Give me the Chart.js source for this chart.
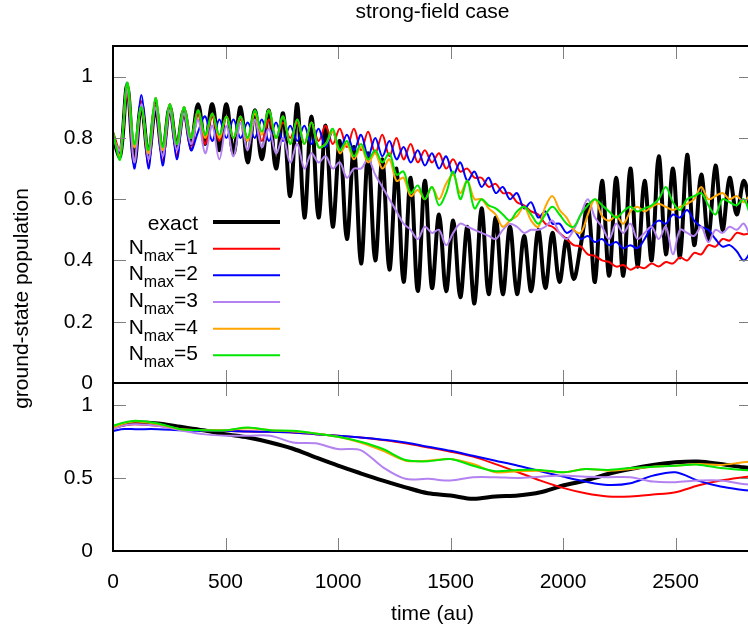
<!DOCTYPE html>
<html>
<head>
<meta charset="utf-8">
<script src="https://cdn.jsdelivr.net/npm/chart.js@4.4.1/dist/chart.umd.min.js"></script>
<style>
  html, body { margin: 0; padding: 0; background: #fff; overflow: hidden; }
  body { width: 748px; height: 632px; }
  #wrap { position: relative; width: 760px; height: 632px; }
</style>
</head>
<body>
<div id="wrap"><canvas id="chart" width="760" height="632"></canvas></div>
<script>
// Données (temps en au)
const timesTop = [
  0, 31.5, 63, 94.5, 126, 157.5, 189, 220.5, 252, 283.5,
  315, 346.5, 378, 409.5, 441, 472.5, 504, 535.5, 567, 598.5,
  630, 661.5, 693, 724.5, 756, 787.5, 819, 850.5, 882, 913.5,
  945, 976.5, 1008, 1039.5, 1071, 1102.5, 1134, 1165.5, 1197, 1228.5,
  1260, 1291.5, 1323, 1354.5, 1386, 1417.5, 1449, 1480.5, 1512, 1543.5,
  1575, 1606.5, 1638, 1669.5, 1701, 1732.5, 1764, 1795.5, 1827, 1858.5,
  1890, 1921.5, 1953, 1984.5, 2016, 2047.5, 2079, 2110.5, 2142, 2173.5,
  2205, 2236.5, 2268, 2299.5, 2331, 2362.5, 2394, 2425.5, 2457, 2488.5,
  2520, 2551.5, 2583, 2614.5, 2646, 2677.5, 2709, 2740.5, 2772, 2803.5,
  2835
];

const exactTop = [
  0.80, 0.74, 0.97, 0.72, 0.91, 0.74, 0.90, 0.75, 0.90, 0.77,
  0.89, 0.78, 0.91, 0.78, 0.91, 0.76, 0.91, 0.75, 0.90, 0.72,
  0.89, 0.73, 0.89, 0.70, 0.88, 0.61, 0.91, 0.54, 0.87, 0.54,
  0.84, 0.51, 0.79, 0.47, 0.77, 0.39, 0.75, 0.40, 0.73, 0.37,
  0.70, 0.33, 0.67, 0.30, 0.66, 0.31, 0.55, 0.30, 0.53, 0.28,
  0.51, 0.26, 0.57, 0.29, 0.54, 0.29, 0.51, 0.29, 0.48, 0.30,
  0.50, 0.31, 0.49, 0.33, 0.47, 0.34, 0.45, 0.58, 0.33, 0.66,
  0.35, 0.67, 0.35, 0.70, 0.38, 0.66, 0.40, 0.74, 0.42, 0.70,
  0.41, 0.745, 0.45, 0.68, 0.47, 0.71, 0.50, 0.67, 0.55, 0.66,
  0.56
];

const n1Top = [
  0.82, 0.76, 0.95, 0.72, 0.92, 0.71, 0.92, 0.72, 0.90, 0.74,
  0.89, 0.76, 0.88, 0.78, 0.87, 0.79, 0.87, 0.80, 0.86, 0.80,
  0.86, 0.79, 0.86, 0.80, 0.85, 0.80, 0.85, 0.78, 0.85, 0.79,
  0.84, 0.78, 0.83, 0.77, 0.83, 0.76, 0.82, 0.75, 0.81, 0.74,
  0.80, 0.73, 0.78, 0.72, 0.76, 0.72, 0.75, 0.70, 0.73, 0.69,
  0.70, 0.67, 0.67, 0.64, 0.65, 0.62, 0.62, 0.59, 0.58, 0.56,
  0.55, 0.52, 0.51, 0.49, 0.47, 0.45, 0.445, 0.42, 0.415, 0.40,
  0.395, 0.38, 0.385, 0.37, 0.38, 0.375, 0.39, 0.38, 0.395, 0.39,
  0.41, 0.40, 0.425, 0.42, 0.45, 0.445, 0.47, 0.465, 0.49, 0.485,
  0.49
];

const n2Top = [
  0.80, 0.75, 0.98, 0.70, 0.94, 0.70, 0.93, 0.71, 0.91, 0.73,
  0.90, 0.76, 0.82, 0.87, 0.79, 0.86, 0.80, 0.86, 0.80, 0.85,
  0.80, 0.86, 0.79, 0.85, 0.79, 0.84, 0.79, 0.84, 0.78, 0.83,
  0.77, 0.82, 0.76, 0.81, 0.76, 0.81, 0.74, 0.80, 0.74, 0.79,
  0.73, 0.77, 0.72, 0.76, 0.71, 0.75, 0.70, 0.74, 0.68, 0.72,
  0.66, 0.69, 0.64, 0.67, 0.62, 0.64, 0.60, 0.62, 0.57, 0.59,
  0.54, 0.56, 0.52, 0.52, 0.49, 0.50, 0.47, 0.48, 0.46, 0.47,
  0.45, 0.46, 0.44, 0.45, 0.44, 0.47, 0.51, 0.53, 0.52, 0.55,
  0.54, 0.565, 0.53, 0.51, 0.50, 0.47, 0.445, 0.45, 0.43, 0.40,
  0.43
];

const n3Top = [
  0.80, 0.76, 0.96, 0.72, 0.91, 0.73, 0.90, 0.74, 0.89, 0.76,
  0.88, 0.78, 0.86, 0.75, 0.84, 0.73, 0.84, 0.74, 0.85, 0.76,
  0.86, 0.77, 0.83, 0.75, 0.80, 0.72, 0.78, 0.70, 0.75, 0.72,
  0.74, 0.70, 0.72, 0.67, 0.70, 0.70, 0.73, 0.68, 0.64, 0.60,
  0.56, 0.52, 0.50, 0.47, 0.51, 0.49, 0.50, 0.45, 0.49, 0.52,
  0.51, 0.50, 0.49, 0.48, 0.47, 0.50, 0.52, 0.51, 0.49, 0.50,
  0.50, 0.51, 0.53, 0.49, 0.47, 0.50, 0.55, 0.60, 0.54, 0.51,
  0.47, 0.52, 0.49, 0.52, 0.47, 0.49, 0.51, 0.47, 0.51, 0.42,
  0.50, 0.49, 0.48, 0.51, 0.46, 0.50, 0.49, 0.51, 0.50, 0.52,
  0.47
];

const n4Top = [
  0.81, 0.74, 0.98, 0.77, 0.90, 0.75, 0.93, 0.76, 0.91, 0.78,
  0.90, 0.80, 0.89, 0.80, 0.88, 0.80, 0.87, 0.80, 0.87, 0.79,
  0.88, 0.81, 0.89, 0.80, 0.87, 0.78, 0.86, 0.78, 0.85, 0.77,
  0.78, 0.82, 0.75, 0.78, 0.73, 0.77, 0.72, 0.75, 0.70, 0.73,
  0.66, 0.67, 0.61, 0.63, 0.60, 0.64, 0.60, 0.65, 0.68, 0.62,
  0.66, 0.60, 0.60, 0.57, 0.55, 0.51, 0.53, 0.545, 0.575, 0.53,
  0.51, 0.575, 0.61, 0.565, 0.54, 0.50, 0.49, 0.55, 0.60, 0.545,
  0.53, 0.545, 0.52, 0.56, 0.575, 0.56, 0.575, 0.585, 0.575, 0.565,
  0.575, 0.585, 0.60, 0.64, 0.60, 0.61, 0.62, 0.60, 0.61, 0.59,
  0.62
];

const n5Top = [
  0.82, 0.73, 0.98, 0.78, 0.90, 0.76, 0.93, 0.77, 0.91, 0.78,
  0.90, 0.80, 0.89, 0.81, 0.88, 0.81, 0.87, 0.80, 0.87, 0.80,
  0.89, 0.82, 0.89, 0.80, 0.87, 0.78, 0.86, 0.78, 0.85, 0.77,
  0.78, 0.83, 0.76, 0.79, 0.74, 0.78, 0.73, 0.76, 0.72, 0.75,
  0.68, 0.69, 0.62, 0.645, 0.60, 0.64, 0.58, 0.62, 0.69, 0.60,
  0.66, 0.57, 0.60, 0.58, 0.57, 0.55, 0.53, 0.56, 0.575, 0.55,
  0.52, 0.55, 0.575, 0.55, 0.52, 0.51, 0.55, 0.58, 0.60, 0.58,
  0.56, 0.54, 0.56, 0.575, 0.56, 0.57, 0.58, 0.60, 0.64, 0.59,
  0.565, 0.60, 0.61, 0.62, 0.58, 0.55, 0.60, 0.59, 0.58, 0.60,
  0.54
];

const timesBottom = [
  0, 50, 100, 200, 300, 400, 500, 600, 700, 800,
  900, 1000, 1100, 1200, 1300, 1400, 1500, 1600, 1700, 1800,
  1900, 2000, 2100, 2200, 2300, 2400, 2500, 2600, 2700, 2800,
  2840
];

const exactBottom = [
  0.846, 0.868, 0.880, 0.873, 0.850, 0.827, 0.800, 0.777, 0.743, 0.700,
  0.641, 0.584, 0.532, 0.482, 0.436, 0.395, 0.380, 0.357, 0.373, 0.380,
  0.402, 0.448, 0.482, 0.527, 0.561, 0.588, 0.607, 0.612, 0.595, 0.573,
  0.566
];
const n1Bottom = [
  0.846, 0.860, 0.868, 0.857, 0.834, 0.827, 0.823, 0.818, 0.816, 0.811,
  0.800, 0.789, 0.777, 0.759, 0.737, 0.709, 0.680, 0.646, 0.595, 0.539,
  0.482, 0.432, 0.395, 0.373, 0.373, 0.386, 0.402, 0.448, 0.482, 0.505,
  0.512
];
const n2Bottom = [
  0.823, 0.835, 0.834, 0.834, 0.827, 0.823, 0.823, 0.818, 0.816, 0.811,
  0.800, 0.789, 0.777, 0.762, 0.743, 0.714, 0.686, 0.652, 0.618, 0.584,
  0.546, 0.509, 0.475, 0.452, 0.464, 0.516, 0.539, 0.482, 0.441, 0.418,
  0.412
];
const n3Bottom = [
  0.834, 0.860, 0.868, 0.857, 0.827, 0.800, 0.789, 0.789, 0.789, 0.743,
  0.737, 0.698, 0.691, 0.573, 0.494, 0.494, 0.482, 0.505, 0.505, 0.500,
  0.509, 0.516, 0.509, 0.505, 0.505, 0.475, 0.471, 0.482, 0.482, 0.459,
  0.455
];
const n4Bottom = [
  0.846, 0.875, 0.886, 0.868, 0.834, 0.827, 0.827, 0.841, 0.827, 0.818,
  0.805, 0.782, 0.743, 0.686, 0.618, 0.618, 0.630, 0.595, 0.539, 0.546,
  0.550, 0.539, 0.561, 0.550, 0.561, 0.577, 0.584, 0.595, 0.589, 0.607,
  0.612
];
const n5Bottom = [
  0.857, 0.880, 0.891, 0.873, 0.834, 0.827, 0.827, 0.846, 0.827, 0.823,
  0.805, 0.782, 0.748, 0.698, 0.623, 0.614, 0.630, 0.584, 0.546, 0.555,
  0.555, 0.539, 0.561, 0.555, 0.568, 0.577, 0.584, 0.591, 0.568, 0.555,
  0.550
];

const seriesLabels = ['exact', 'N_{max}=1', 'N_{max}=2', 'N_{max}=3', 'N_{max}=4', 'N_{max}=5'];
const seriesColors = ['#000000', '#ff0000', '#0000ff', '#b482f0', '#ffa500', '#00e600'];
const topSeries = [exactTop, n1Top, n2Top, n3Top, n4Top, n5Top];
const bottomSeries = [exactBottom, n1Bottom, n2Bottom, n3Bottom, n4Bottom, n5Bottom];

const xTicks = [0, 500, 1000, 1500, 2000, 2500];
const xTickLabels = ['0', '500', '1000', '1500', '2000', '2500'];
const yTopTicks = [0, 0.2, 0.4, 0.6, 0.8, 1];
const yTopTickLabels = ['0', '0.2', '0.4', '0.6', '0.8', '1'];
const yBotTicks = [0, 0.5, 1];
const yBotTickLabels = ['0', '0.5', '1'];

const FONT = "'Liberation Sans', Arial, Helvetica, sans-serif";
const FONT_SIZE = 21;

function toPoints(ts, vs) {
  return ts.map((t, i) => ({ x: t, y: vs[i] }));
}

// "N_{max}=1" -> morceaux normal / indice
function splitSub(text) {
  const parts = [];
  const re = /_\{([^}]*)\}/g;
  let last = 0, m;
  while ((m = re.exec(text))) {
    if (m.index > last) parts.push([text.slice(last, m.index), false]);
    parts.push([m[1], true]);
    last = re.lastIndex;
  }
  if (last < text.length) parts.push([text.slice(last), false]);
  return parts;
}

const datasets = [];
seriesLabels.forEach((label, k) => {
  const common = {
    label: label,
    borderColor: seriesColors[k],
    backgroundColor: seriesColors[k],
    borderWidth: k === 0 ? 4 : 2,
    pointRadius: 0,
    fill: false,
    order: seriesLabels.length - k
  };
  datasets.push(Object.assign({ data: toPoints(timesTop, topSeries[k]), yAxisID: 'yTop', tension: 0.35 }, common));
  datasets.push(Object.assign({ data: toPoints(timesBottom, bottomSeries[k]), yAxisID: 'yBot', tension: 0.3 }, common));
});

// Cadre, graduations et textes façon gnuplot
const gnuplotLook = {
  id: 'gnuplotLook',
  afterDatasetsDraw(chart) {
    const { ctx, chartArea: a, scales } = chart;
    const x = scales.x, yT = scales.yTop, yB = scales.yBot;
    const L = 13;
    ctx.save();
    ctx.strokeStyle = '#7f7f7f';
    ctx.lineWidth = 1;
    ctx.beginPath();
    xTicks.forEach(v => {
      const px = Math.round(x.getPixelForValue(v)) + 0.5;
      [[yT.top, 1], [yT.bottom, -1], [yB.top, 1], [yB.bottom, -1]].forEach(([py, d]) => {
        ctx.moveTo(px, py);
        ctx.lineTo(px, py + d * L);
      });
    });
    [[yT, yTopTicks], [yB, yBotTicks]].forEach(([s, ticks]) => {
      ticks.forEach(v => {
        const py = Math.round(s.getPixelForValue(v)) + 0.5;
        ctx.moveTo(a.left, py); ctx.lineTo(a.left + L, py);
        ctx.moveTo(a.right, py); ctx.lineTo(a.right - L, py);
      });
    });
    ctx.stroke();

    ctx.strokeStyle = '#000';
    ctx.lineWidth = 2;
    ctx.strokeRect(a.left, yT.top, a.right - a.left, yT.bottom - yT.top);
    ctx.strokeRect(a.left, yB.top, a.right - a.left, yB.bottom - yB.top);

    // légende
    const mainFont = FONT_SIZE + 'px ' + FONT;
    const subFont = '16px ' + FONT;
    ctx.fillStyle = '#000';
    ctx.textAlign = 'left';
    ctx.textBaseline = 'alphabetic';
    seriesLabels.forEach((label, k) => {
      const rowY = 222 + k * 26.67;
      const parts = splitSub(label);
      const hasSub = parts.some(p => p[1]);
      const base = rowY + (hasSub ? 5 : 8);
      let w = 0;
      parts.forEach(([t, sub]) => { ctx.font = sub ? subFont : mainFont; w += ctx.measureText(t).width; });
      let tx = 198 - w;
      parts.forEach(([t, sub]) => {
        ctx.font = sub ? subFont : mainFont;
        ctx.fillText(t, tx, sub ? base + 7 : base);
        tx += ctx.measureText(t).width;
      });
      ctx.strokeStyle = seriesColors[k];
      ctx.lineWidth = k === 0 ? 4 : 2;
      ctx.beginPath();
      ctx.moveTo(213, rowY);
      ctx.lineTo(280, rowY);
      ctx.stroke();
    });

    // titres
    const cx = (a.left + a.right) / 2;
    ctx.font = mainFont;
    ctx.textAlign = 'center';
    ctx.fillText('strong-field case', cx, 18);
    ctx.fillText('time (au)', cx, 620);
    ctx.translate(22, (yT.top + yB.bottom) / 2);
    ctx.rotate(-Math.PI / 2);
    ctx.textBaseline = 'middle';
    ctx.fillText('ground-state population', 0, 0);
    ctx.restore();
  }
};

function fixedTicks(values, labels) {
  return {
    afterBuildTicks: s => { s.ticks = values.map(v => ({ value: v })); },
    ticks: {
      callback: v => labels[values.indexOf(v)],
      autoSkip: false,
      maxRotation: 0,
      color: '#000',
      font: { family: FONT, size: FONT_SIZE }
    }
  };
}

const ctx = document.getElementById('chart').getContext('2d');
const chart = new Chart(ctx, {
  type: 'line',
  data: { datasets: datasets },
  options: {
    responsive: false,
    animation: false,
    events: [],
    layout: { padding: { top: 46, right: 8, bottom: 0, left: 0 } },
    plugins: { legend: { display: false }, tooltip: { enabled: false }, title: { display: false } },
    scales: {
      x: Object.assign({
        type: 'linear', position: 'bottom', min: 0, max: 2840,
        grid: { display: false, drawTicks: false }, border: { display: false },
        afterFit: s => { s.height = 81; }
      }, fixedTicks(xTicks, xTickLabels)),
      yBot: Object.assign({
        type: 'linear', position: 'left', stack: 'panels', stackWeight: 168, min: 0, max: 1.15,
        grid: { display: false, drawTicks: false }, border: { display: false },
        afterFit: s => { s.width = 113; }
      }, fixedTicks(yBotTicks, yBotTickLabels)),
      yTop: Object.assign({
        type: 'linear', position: 'left', stack: 'panels', stackWeight: 337, min: 0, max: 1.1,
        grid: { display: false, drawTicks: false }, border: { display: false },
        afterFit: s => { s.width = 113; }
      }, fixedTicks(yTopTicks, yTopTickLabels))
    }
  },
  plugins: [gnuplotLook]
});
chart.options.scales.x.ticks.padding = 19;
chart.options.scales.yTop.ticks.padding = 20;
chart.options.scales.yBot.ticks.padding = 20;
chart.update();
</script>
</body>
</html>
